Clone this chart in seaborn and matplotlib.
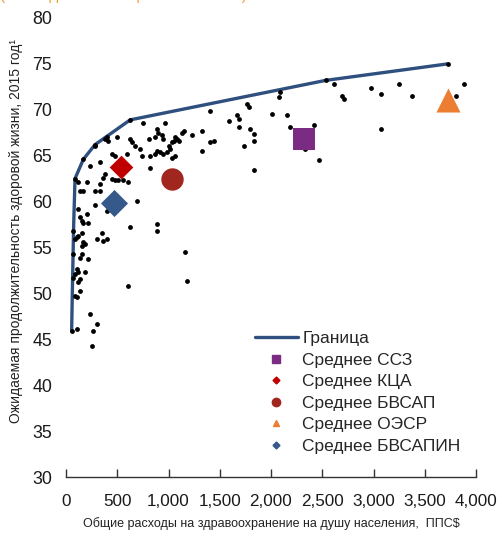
import matplotlib
matplotlib.use("Agg")
import matplotlib.pyplot as plt
from matplotlib.lines import Line2D
from matplotlib import font_manager
import seaborn as sns
import pandas as pd

# ---- data ----
country_x = [2613, 2971, 3248, 3069, 3379, 3884, 3802, 2694, 2711, 2092, 2075, 1766, 1782, 1407,
             2010, 2157, 1587, 1668, 1684, 1684, 1798, 1831, 1831, 1733, 2189, 2417, 2336, 2466,
             3069, 1831, 1326, 1440, 1407, 1326, 1228, 756, 968, 1147, 1131, 1065, 1049, 1082,
             1098, 1033, 886, 902, 805, 870, 935, 951, 1000, 1016, 984, 951, 919, 886, 870, 1065,
             1033, 821, 740, 821, 723, 674, 626, 642, 495, 397, 414, 381, 593, 479, 446, 332, 235,
             283, 365, 381, 332, 446, 479, 511, 560, 609, 202, 121, 137, 169, 283, 332, 691, 283,
             397, 121, 137, 202, 218, 153, 169, 626, 886, 886, 72, 153, 121, 88, 104, 169, 186,
             153, 349, 365, 397, 300, 72, 153, 137, 218, 1163, 104, 121, 88, 72, 186, 137, 121,
             1179, 609, 137, 88, 104, 235, 300, 267, 104, 55, 251,
             3724, 2532, 626, 283, 169, 88]
country_y = [72.8, 72.4, 72.8, 71.7, 71.5, 72.8, 71.5, 71.5, 71.2, 71.9, 71.4, 70.6, 70.3, 69.9,
             69.5, 69.4, 68.8, 69.4, 69.0, 68.1, 67.9, 67.4, 66.6, 66.1, 68.1, 68.3, 65.7, 64.5,
             67.9, 63.4, 67.7, 66.6, 66.5, 65.5, 67.2, 68.6, 68.6, 67.7, 67.5, 67.0, 66.6, 66.8,
             66.6, 66.5, 67.9, 67.5, 66.8, 67.0, 67.2, 66.8, 66.1, 65.7, 65.4, 65.2, 65.4, 65.5,
             65.2, 65.0, 64.8, 65.0, 65.0, 63.7, 65.7, 66.1, 66.8, 66.5, 67.0, 67.0, 66.6, 66.8,
             65.2, 65.0, 65.2, 64.3, 63.9, 66.1, 62.6, 63.0, 61.9, 62.5, 62.3, 62.3, 62.3, 62.1,
             62.1, 62.1, 61.2, 61.2, 61.2, 61.2, 60.1, 59.6, 59.0, 59.2, 58.3, 58.6, 57.7, 57.9,
             57.7, 57.2, 57.6, 56.8, 56.8, 56.6, 56.3, 55.9, 56.1, 55.6, 55.4, 55.2, 56.6, 55.7,
             55.9, 55.9, 54.3, 54.3, 53.9, 53.7, 54.5, 52.7, 52.3, 52.1, 51.7, 52.3, 51.6, 51.2,
             51.4, 50.8, 50.3, 49.7, 49.6, 47.8, 46.7, 45.9, 46.1, 45.9, 44.3,
             75.0, 73.2, 68.9, 66.2, 64.6, 62.5]

frontier_x = [55, 65, 75, 88, 169, 283, 626, 2532, 3724]
frontier_y = [45.9, 52.0, 57.5, 62.5, 64.6, 66.2, 68.9, 73.2, 75.0]

group_labels = ["Среднее ССЗ", "Среднее КЦА", "Среднее БВСАП", "Среднее ОЭСР", "Среднее БВСАПИН"]
group_x = [2320, 534, 1033, 3730, 469]
group_y = [66.8, 63.8, 62.5, 71.1, 59.8]

x_ticks = [0, 500, 1000, 1500, 2000, 2500, 3000, 3500, 4000]
y_ticks = [30, 35, 40, 45, 50, 55, 60, 65, 70, 75, 80]

# ---- styles ----
group_markers = ["s", "D", "o", "^", "D"]
group_colors = ["#7B2C82", "#C00000", "#A0261E", "#ED7D31", "#34598A"]
group_sizes = [255, 145, 260, 300, 190]
legend_ms = [6, 3.5, 6, 5, 3.5]
line_color = "#2F4F7F"

sns.set_theme(style="white")
installed = {f.name for f in font_manager.fontManager.ttflist}
base_font = "Liberation Sans" if "Liberation Sans" in installed else "DejaVu Sans"
narrow_font = "Liberation Sans Narrow" if "Liberation Sans Narrow" in installed else base_font
plt.rcParams["font.family"] = [base_font, "DejaVu Sans"]

fig = plt.figure(figsize=(5.0, 5.35), dpi=100)
ax = fig.add_axes([0.132, 0.1084, 0.82, 0.858])

df_c = pd.DataFrame({"x": country_x, "y": country_y})
sns.scatterplot(data=df_c, x="x", y="y", ax=ax, color="black", s=12, linewidth=0, zorder=3)

df_f = pd.DataFrame({"x": frontier_x, "y": frontier_y})
sns.lineplot(data=df_f, x="x", y="y", ax=ax, sort=False, color=line_color, linewidth=2.4,
             estimator=None, zorder=2)

for lab, gx, gy, m, c, s in zip(group_labels, group_x, group_y, group_markers, group_colors, group_sizes):
    sns.scatterplot(x=[gx], y=[gy], ax=ax, marker=m, color=c, s=s, linewidth=0, zorder=4)

ax.set_xlim(0, 4000)
ax.set_ylim(30, 80)
ax.set_xticks(x_ticks)
ax.set_xticklabels([f"{v:,}" for v in x_ticks])
ax.set_yticks(y_ticks)
ax.set_yticklabels([str(v) for v in y_ticks])
ax.tick_params(axis="x", direction="in", length=6, width=1, color="#333333", pad=12,
               labelsize=12.3, labelcolor="#1a1a1a", bottom=True)
ax.tick_params(axis="y", length=0, pad=10, labelsize=12.8, labelcolor="#1a1a1a")
for sp in ["top", "right", "left"]:
    ax.spines[sp].set_visible(False)
ax.spines["bottom"].set_color("#333333")
ax.spines["bottom"].set_linewidth(1.0)

ax.set_xlabel("Общие расходы на здравоохранение на душу населения,  ППС$",
              fontsize=9.0, family=[narrow_font, "DejaVu Sans"], color="#222222")
ax.xaxis.set_label_coords(0.5, -0.088)
ax.set_ylabel("Ожидаемая продолжительность здоровой жизни, 2015 год¹",
              fontsize=10.0, family=[narrow_font, "DejaVu Sans"], color="#222222")
ax.yaxis.set_label_coords(-0.105, 0.535)

handles = [Line2D([0], [0], color=line_color, linewidth=2.4)]
for m, c, ms in zip(group_markers, group_colors, legend_ms):
    handles.append(Line2D([0], [0], linestyle="none", marker=m, color=c, markersize=ms))
labels = ["Граница"] + group_labels
leg = ax.legend(handles, labels, loc="upper left", bbox_to_anchor=(0.46, 0.318), frameon=False,
                fontsize=12.5, handlelength=2.5, handletextpad=0.25, labelspacing=0.37,
                borderaxespad=0, borderpad=0)

fig.text(0.0, 0.994, "(Последнее имеющееся значение)", color="#F0A030", fontsize=11,
         ha="left", va="bottom")

fig.savefig("out.png", dpi=100)
